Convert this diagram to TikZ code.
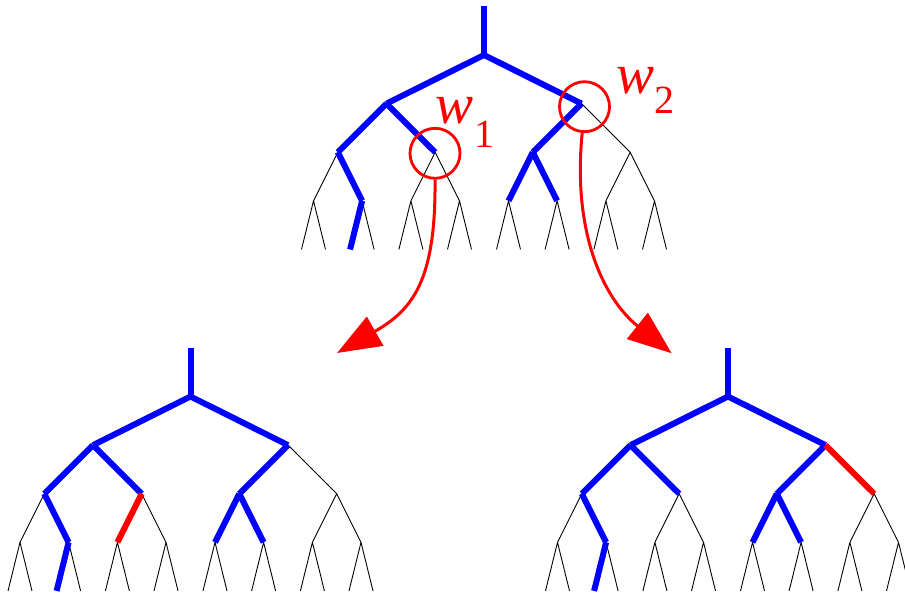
\documentclass[tikz,border=0pt]{standalone}
\usepackage{fontspec}
\setmainfont{Liberation Serif}
\usetikzlibrary{arrows.meta,calc}
\definecolor{pblue}{RGB}{0,0,255}
\definecolor{pred}{RGB}{255,0,0}
\tikzset{
  thinedge/.style={draw=black, line width=0.9pt},
  blueedge/.style={draw=pblue, line width=6pt},
  rededge/.style={draw=pred, line width=6pt},
  ring/.style={circle, draw=pred, line width=2.8pt, minimum size=50pt, inner sep=0pt},
  bigarrow/.style={draw=pred, line width=3pt, -{Triangle[length=44pt,width=33pt]}},
  lab/.style={text=pred, anchor=base west, inner sep=0pt, font=\fontsize{57}{57}\selectfont\itshape}
}
% tree coordinates: #1 prefix, (#2,#3) root
\newcommand\maketree[3]{%
  \coordinate (#1-top) at (#2,#3-49);
  \coordinate (#1-o) at (#2,#3);
  \foreach \p/\dx in {o/97.5}{
    \coordinate (#1-\p L) at ($(#1-\p)+(-\dx,48.6)$);
    \coordinate (#1-\p R) at ($(#1-\p)+(\dx,48.6)$);
    \draw[thinedge] (#1-\p) -- (#1-\p L) (#1-\p) -- (#1-\p R);}
  \foreach \p in {oL,oR}{
    \coordinate (#1-\p L) at ($(#1-\p)+(-48.7,48.6)$);
    \coordinate (#1-\p R) at ($(#1-\p)+(48.7,48.6)$);
    \draw[thinedge] (#1-\p) -- (#1-\p L) (#1-\p) -- (#1-\p R);}
  \foreach \p in {oLL,oLR,oRL,oRR}{
    \coordinate (#1-\p L) at ($(#1-\p)+(-24.3,48.6)$);
    \coordinate (#1-\p R) at ($(#1-\p)+(24.3,48.6)$);
    \draw[thinedge] (#1-\p) -- (#1-\p L) (#1-\p) -- (#1-\p R);}
  \foreach \p in {oLLL,oLLR,oLRL,oLRR,oRLL,oRLR,oRRL,oRRR}{
    \coordinate (#1-\p L) at ($(#1-\p)+(-12,48.6)$);
    \coordinate (#1-\p R) at ($(#1-\p)+(12,48.6)$);
    \draw[thinedge] (#1-\p) -- (#1-\p L) (#1-\p) -- (#1-\p R);}
  \foreach \a/\b in {top/o,o/oL,o/oR,oL/oLL,oL/oLR,oLL/oLLR,oLLR/oLLRL,oR/oRL,oRL/oRLL,oRL/oRLR}
    \draw[blueedge] (#1-\a) -- (#1-\b);
}
\begin{document}
\begin{tikzpicture}[x=1pt,y=-1pt]
  \useasboundingbox (0,0) rectangle (905,595);
  \clip (0,0) rectangle (905,595);
  % top tree
  \maketree{T}{484}{55}
  % bottom left tree
  \maketree{A}{190.5}{396.5}
  \draw[rededge] (A-oLR) -- (A-oLRL);
  % bottom right tree
  \maketree{B}{728}{396.5}
  \draw[rededge] (B-oR) -- (B-oRR);
  % circles and labels
  \node[ring] (c1) at (435,153.3) {};
  \node[ring] (c2) at (584.5,106.7) {};
  \node[lab] (w1) at (435,123) {w\kern1pt\raisebox{-24pt}{\fontsize{40}{40}\selectfont\upshape 1}};
  \node[lab] (w2) at (616,93.3) {w\raisebox{-20pt}{\fontsize{40}{40}\selectfont\upshape 2}};
  % arrows
  \coordinate (a1) at (337,353);
  \coordinate (a2) at (671.7,353.3);
  \draw[bigarrow] (c1.south) .. controls (436,280) and (413,309.6) .. (a1);
  \draw[bigarrow] (c2.265) .. controls (572,235) and (605,300) .. (a2);
\end{tikzpicture}
\end{document}
